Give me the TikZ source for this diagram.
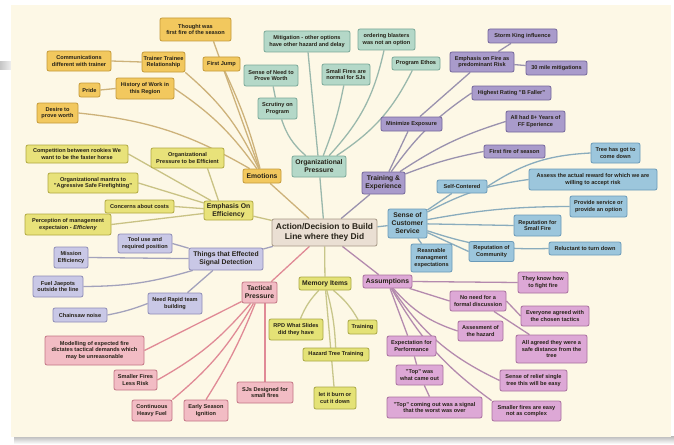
\documentclass[tikz,border=0pt]{standalone}
\usepackage{fontspec}
\setmainfont{Liberation Sans}
\pgfdeclarelayer{paper}
\pgfdeclarelayer{links}
\pgfsetlayers{paper,links,main}

% branch colours: fill, frame, connector
\definecolor{cenF}{HTML}{EADFD3}\definecolor{cenD}{HTML}{A69886}
\definecolor{emoF}{HTML}{F2C85E}\definecolor{emoD}{HTML}{C49A3A}\definecolor{emoL}{HTML}{CDB27A}
\definecolor{effF}{HTML}{E8E27A}\definecolor{effD}{HTML}{B0A840}\definecolor{effL}{HTML}{C9C284}
\definecolor{orgF}{HTML}{B4D8C8}\definecolor{orgD}{HTML}{7AA898}\definecolor{orgL}{HTML}{9AB8AC}
\definecolor{trnF}{HTML}{A99BCB}\definecolor{trnD}{HTML}{75679B}\definecolor{trnL}{HTML}{9A92AE}
\definecolor{cusF}{HTML}{9CC6DC}\definecolor{cusD}{HTML}{6A9AB8}\definecolor{cusL}{HTML}{8AACBD}
\definecolor{asmF}{HTML}{DDA8D6}\definecolor{asmD}{HTML}{A8709E}\definecolor{asmL}{HTML}{B48AAE}
\definecolor{memF}{HTML}{E4E276}\definecolor{memD}{HTML}{A9A746}\definecolor{memL}{HTML}{C8C68A}
\definecolor{tacF}{HTML}{F2BCC4}\definecolor{tacD}{HTML}{C27584}\definecolor{tacL}{HTML}{E08A96}
\definecolor{sigF}{HTML}{C9C8E6}\definecolor{sigD}{HTML}{8E8CB6}\definecolor{sigL}{HTML}{A3A2BC}
\definecolor{paperC}{HTML}{FDF8E6}
\definecolor{ink}{HTML}{262218}

\begin{document}
\begin{tikzpicture}[x=1pt,y=-1pt,
  box/.style={draw, rounded corners=2pt, line width=0.8pt, align=center,
    font=\fontsize{5.6}{6.6}\selectfont\bfseries, inner sep=1.5pt, text=ink},
  branch/.style={box, font=\fontsize{6.8}{8}\selectfont\bfseries},
  sz/.style 2 args={minimum width=#1pt, minimum height=#2pt},
  emoB/.style={box, fill=emoF, draw=emoD}, emoE/.style={draw=emoL, line width=1.3pt},
  effB/.style={box, fill=effF, draw=effD}, effE/.style={draw=effL, line width=1.3pt},
  orgB/.style={box, fill=orgF, draw=orgD}, orgE/.style={draw=orgL, line width=1.3pt},
  trnB/.style={box, fill=trnF, draw=trnD}, trnE/.style={draw=trnL, line width=1.3pt},
  cusB/.style={box, fill=cusF, draw=cusD}, cusE/.style={draw=cusL, line width=1.3pt},
  asmB/.style={box, fill=asmF, draw=asmD}, asmE/.style={draw=asmL, line width=1.3pt},
  memB/.style={box, fill=memF, draw=memD}, memE/.style={draw=memL, line width=1.3pt},
  tacB/.style={box, fill=tacF, draw=tacD}, tacE/.style={draw=tacL, line width=1.3pt},
  sigB/.style={box, fill=sigF, draw=sigD}, sigE/.style={draw=sigL, line width=1.3pt}]

\useasboundingbox (0,0) rectangle (674,444);

% the slide sheet
\begin{pgfonlayer}{paper}
  \fill[white] (0,0) rectangle (674,444);
  \shade[top color=gray!55, bottom color=white] (14,436) rectangle (674,444);
  \shade[left color=gray!45, right color=gray!10] (0,62) rectangle (12,69);
  \fill[paperC] (11,5) rectangle (671,437);
\end{pgfonlayer}

% centre
\node[box, fill=cenF, draw=cenD, sz={105}{27}, font=\fontsize{8.4}{10}\selectfont\bfseries] (cen) at (324.5,232.5) {Action/Decision to Build\\Line where they Did};

% Emotions
\node[emoB, branch, sz={38}{14}] (emo) at (262,176) {Emotions};
\node[emoB, sz={71}{23}] (thought) at (195.5,29.5) {Thought was\\first fire of the season};
\node[emoB, sz={37}{14}] (fjump) at (221.5,64) {First Jump};
\node[emoB, sz={39}{20}] (trainer) at (163.5,62) {Trainer Trainee\\Relationship};
\node[emoB, sz={64}{20}] (comm) at (79,61) {Communications\\different with trainer};
\node[emoB, sz={58}{21}] (history) at (145,88.5) {History of Work in\\this Region};
\node[emoB, sz={21}{14}] (pride) at (89.5,90) {Pride};
\node[emoB, sz={41}{20}] (desire) at (57.5,113) {Desire to\\prove worth};

% Emphasis on efficiency
\node[effB, branch, sz={49}{19}] (eff) at (228.5,210.5) {Emphasis On\\Efficiency};
\node[effB, sz={73}{20}] (ope) at (187.5,158) {Organizational\\Pressure to be Efficient};
\node[effB, sz={102}{18}] (comp) at (77,154) {Competition between rookies We\\want to be the faster horse};
\node[effB, sz={90}{20}] (mantra) at (93,183) {Organizational mantra to\\"Agressive Safe Firefighting"};
\node[effB, sz={69}{13}] (costs) at (139.5,206.5) {Concerns about costs};
\node[effB, sz={86}{21}] (percep) at (68,224.5) {Perception of management\\expectaion - \textit{Efficieny}};

% Organizational pressure
\node[orgB, branch, sz={54}{21}] (org) at (319,166.5) {Organizational\\Pressure};
\node[orgB, sz={86}{21}] (mitig) at (307,41.5) {Mitigation - other options\\have other hazard and delay};
\node[orgB, sz={57}{21}] (blast) at (386.5,39.5) {ordering blasters\\was not an option};
\node[orgB, sz={54}{21}] (needpw) at (271,75.5) {Sense of Need to\\Prove Worth};
\node[orgB, sz={39}{21}] (scrut) at (277.5,108.5) {Scrutiny on\\Program};
\node[orgB, sz={48}{21}] (smallsj) at (346,74.5) {Small Fires are\\normal for SJs};
\node[orgB, sz={48}{13}] (ethos) at (416,63.5) {Program Ethos};

% Training & experience
\node[trnB, branch, sz={43}{22}] (trn) at (383.5,183) {Training \&\\Experience};
\node[trnB, sz={61}{14}] (minexp) at (411.5,124) {Minimize Exposure};
\node[trnB, sz={64}{20}] (empfire) at (482,62) {Emphasis on Fire as\\predominant Risk};
\node[trnB, sz={69}{14}] (storm) at (522.5,36) {Storm King influence};
\node[trnB, sz={61}{14}] (thirty) at (556.5,68) {30 mile mitigations};
\node[trnB, sz={79}{14}] (bfaller) at (511.5,93) {Highest Rating "B Faller"};
\node[trnB, sz={59}{21}] (eight) at (535.5,121.5) {All had 8+ Years of\\FF Eperience};
\node[trnB, sz={61}{13}] (ffseason) at (514.5,151.5) {First fire of season};

% Sense of customer service
\node[cusB, branch, sz={39}{29}] (cust) at (407.5,223.5) {Sense of\\Customer\\Service};
\node[cusB, sz={50}{13}] (selfc) at (462,186.5) {Self-Contered};
\node[cusB, sz={49}{20}] (treedown) at (615.5,153) {Tree has got to\\come down};
\node[cusB, sz={128}{21}] (assess) at (593,179.5) {Assess the actual reward for which we are\\willing to accept risk};
\node[cusB, sz={57}{21}] (provide) at (598.5,206.5) {Provide service or\\provide an option};
\node[cusB, sz={47}{21}] (repsmall) at (537.5,225.5) {Reputation for\\Small Fire};
\node[cusB, sz={72}{13}] (reluct) at (585,248.5) {Reluctant to turn down};
\node[cusB, sz={41}{28}] (reasn) at (431.5,258) {Reasnable\\managment\\expectations};
\node[cusB, sz={45}{20}] (repcomm) at (491.5,251.5) {Reputation of\\Community};

% Assumptions
\node[asmB, branch, sz={49}{13}] (asm) at (387.5,281.5) {Assumptions};
\node[asmB, sz={50}{21}] (know) at (543,282.5) {They know how\\to fight fire};
\node[asmB, sz={56}{20}] (noneed) at (478,301) {No need for a\\formal discussion};
\node[asmB, sz={68}{20}] (everyone) at (555,316) {Everyone agreed with\\the chosen tactics};
\node[asmB, sz={45}{20}] (assesm) at (480.5,331) {Assesment of\\the hazard};
\node[asmB, sz={71}{28}] (allagreed) at (551.5,349) {All agreed they were a\\safe distance from the\\tree};
\node[asmB, sz={67}{21}] (relief) at (533.5,380.5) {Sense of relief single\\tree this will be easy};
\node[asmB, sz={69}{20}] (easy) at (526.5,411) {Smaller fires are easy\\not as complex};
\node[asmB, sz={49}{20}] (expect) at (411.5,346) {Expectation for\\Performance};
\node[asmB, sz={47}{20}] (topwas) at (419.5,375) {"Top" was\\what came out};
\node[asmB, sz={95}{21}] (topsignal) at (434.5,407.5) {"Top" coming out was a signal\\that the worst was over};

% Memory items
\node[memB, branch, sz={52}{13}] (mem) at (325,283.5) {Memory Items};
\node[memB, sz={54}{21}] (rpd) at (296,329.5) {RPD What Slides\\did they have};
\node[memB, sz={29}{14}] (training) at (362.5,327) {Training};
\node[memB, sz={66}{13}] (hazard) at (336,354.5) {Hazard Tree Training};
\node[memB, sz={42}{22}] (burn) at (335,398) {let it burn or\\cut it down};

% Tactical pressure
\node[tacB, branch, sz={35}{21}] (tac) at (259.5,292.5) {Tactical\\Pressure};
\node[tacB, sz={99}{29}] (model) at (94.5,350.5) {Modelling of expected fire\\dictates tactical demands which\\may be unreasonable};
\node[tacB, sz={43}{20}] (smallrisk) at (135.5,380) {Smaller Fires\\Less Risk};
\node[tacB, sz={40}{21}] (heavy) at (152,410.5) {Continuous\\Heavy Fuel};
\node[tacB, sz={44}{21}] (early) at (206,410.5) {Early Season\\Ignition};
\node[tacB, sz={56}{21}] (sjs) at (265,392.5) {SJs Designed for\\small fires};

% Signal detection
\node[sigB, branch, sz={74}{22}] (sig) at (226,259) {Things that Effected\\Signal Detection};
\node[sigB, sz={54}{19}] (tool) at (145,243.5) {Tool use and\\required position};
\node[sigB, sz={34}{21}] (mission) at (71,257.5) {Mission\\Efficiency};
\node[sigB, sz={50}{21}] (jeep) at (58,286.5) {Fuel Jaepots\\outside the line};
\node[sigB, sz={54}{21}] (rapid) at (175,303.5) {Need Rapid team\\building};
\node[sigB, sz={54}{14}] (chain) at (80,315) {Chainsaw noise};

% connectors, drawn beneath the boxes
\begin{pgfonlayer}{links}
  % Emotions
  \draw[emoE] (emo) -- (cen);
  \draw[emoE] ([xshift=18pt]thought.south) -- (emo);
  \draw[emoE] (fjump) to[bend left=5] (emo);
  \draw[emoE] (trainer.south east) to[bend left=12] (emo);
  \draw[emoE] (history.east) to[bend left=10] (emo);
  \draw[emoE] (desire.east) to[bend left=12] (emo);
  \draw[emoE] (comm.east) -- (trainer.west);
  \draw[emoE] (pride.east) -- (history.west);
  % Emphasis on efficiency
  \draw[effE] (eff) -- (cen);
  \draw[effE] (comp.east) -- (eff);
  \draw[effE] (mantra.east) -- (eff);
  \draw[effE] (costs.east) -- (eff);
  \draw[effE] (percep.east) -- (eff);
  \draw[effE] ([xshift=20pt]ope.south) -- ([xshift=-10pt]eff.north);
  % Organizational pressure
  \draw[orgE] (org) -- (cen);
  \draw[orgE] (org) to[bend left=15] (scrut);
  \draw[orgE] (scrut) -- (needpw);
  \draw[orgE] (org) -- (mitig);
  \draw[orgE] (org) to[bend right=5] (smallsj);
  \draw[orgE] (org) to[bend right=15] (blast);
  \draw[orgE] (org) to[bend right=15] (ethos);
  % Training & experience
  \draw[trnE] (trn) -- (cen);
  \draw[trnE] (trn) -- (minexp);
  \draw[trnE] (minexp) -- (empfire);
  \draw[trnE] (empfire) -- (storm);
  \draw[trnE] (empfire) -- (thirty);
  \draw[trnE] (trn) to[bend left=10] (bfaller.west);
  \draw[trnE] (trn) to[bend left=8] (eight.west);
  \draw[trnE] (trn) to[bend left=5] (ffseason.west);
  % Sense of customer service
  \draw[cusE] (cust) -- (cen);
  \draw[cusE] (cust) -- (selfc);
  \draw[cusE] (selfc.east) to[bend left=15] (treedown.west);
  \draw[cusE] (cust) to[bend left=10] (assess.west);
  \draw[cusE] (cust) to[bend left=5] (provide.west);
  \draw[cusE] (cust) -- (repsmall.west);
  \draw[cusE] (cust) to[bend right=10] (reluct.west);
  \draw[cusE] (cust) -- (repcomm.west);
  \draw[cusE] (cust) -- (reasn);
  % Assumptions
  \draw[asmE] (asm) -- (cen);
  \draw[asmE] (asm.east) -- (know.west);
  \draw[asmE] (asm) -- (noneed.west);
  \draw[asmE] (noneed.east) -- (everyone.west);
  \draw[asmE] (noneed) -- (allagreed);
  \draw[asmE] (asm) to[bend right=15] (assesm.west);
  \draw[asmE] (asm) to[bend right=15] (relief.west);
  \draw[asmE] (asm) to[bend right=12] (easy.north west);
  \draw[asmE] (asm) -- (expect);
  \draw[asmE] (expect) -- (topwas);
  \draw[asmE] (topwas) -- (topsignal);
  % Memory items
  \draw[memE] (mem) -- (cen);
  \draw[memE] (mem) to[bend right=10] (rpd);
  \draw[memE] (mem) to[bend left=10] (training);
  \draw[memE] (mem) to[bend left=6] (hazard);
  \draw[memE] (mem) -- (burn);
  % Tactical pressure
  \draw[tacE] (tac) -- (cen);
  \draw[tacE] (model.east) -- (tac);
  \draw[tacE] (smallrisk.east) to[bend right=10] (tac);
  \draw[tacE] (heavy.north east) to[bend right=10] (tac);
  \draw[tacE] (early.north) to[bend right=5] (tac);
  \draw[tacE] (sjs) -- (sjs |- tac);
  % Signal detection
  \draw[sigE] (sig) -- (cen);
  \draw[sigE] (tool.east) -- (sig);
  \draw[sigE] (mission.east) -- (sig);
  \draw[sigE] (jeep.east) to[bend right=8] (sig);
  \draw[sigE] (rapid) -- (sig);
  \draw[sigE] (chain.east) to[bend right=5] (rapid.west);
\end{pgfonlayer}
\end{tikzpicture}
\end{document}
